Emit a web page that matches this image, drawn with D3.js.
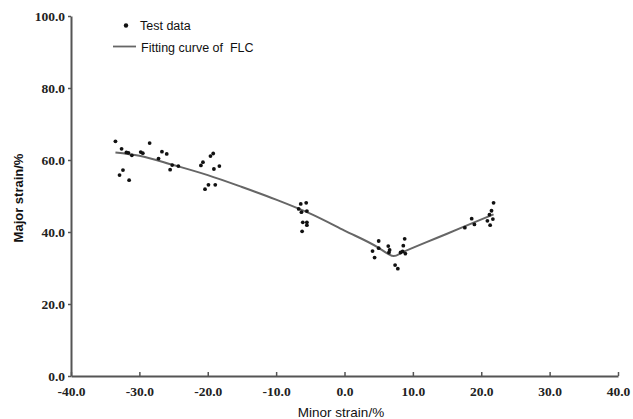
<!DOCTYPE html>
<html>
<head>
<meta charset="utf-8">
<script src="https://cdn.jsdelivr.net/npm/d3@7"></script>
<style>
  html, body { margin: 0; padding: 0; background: #fff; }
  svg { display: block; }
</style>
</head>
<body>
<svg id="chart" width="633" height="419"></svg>
<script>
// Test data (minor strain %, major strain %)
const testMinor = [-33.5, -32.6, -31.9, -31.6, -31.1, -32.4, -32.9, -31.5, -29.8, -29.5, -28.5, -27.2, -26.7, -26.0, -25.2, -25.5, -24.3,
  -21.0, -20.7, -19.6, -19.2, -19.1, -18.3, -19.9, -20.4, -18.9,
  -6.4, -5.6, -6.7, -6.3, -5.5, -6.1, -5.5, -5.5, -6.2,
  5.0, 4.1, 4.4, 5.0, 6.4, 6.6, 6.5, 8.8, 8.6, 8.2, 8.5, 8.9, 7.4, 7.8,
  17.6, 18.6, 19.0, 21.2, 21.5, 21.8, 21.7, 21.3, 20.9];
const testMajor = [65.2, 63.1, 62.1, 62.0, 61.3, 57.2, 55.8, 54.4, 62.2, 61.9, 64.7, 60.4, 62.3, 61.7, 58.6, 57.3, 58.3,
  58.5, 59.4, 61.1, 61.8, 57.5, 58.3, 53.1, 51.9, 53.1,
  47.8, 48.1, 46.4, 45.5, 45.8, 42.7, 42.7, 41.9, 40.2,
  37.5, 34.7, 32.9, 35.5, 36.1, 35.0, 34.3, 38.1, 36.2, 34.3, 34.6, 34.0, 30.8, 29.8,
  41.2, 43.7, 42.1, 44.8, 45.9, 48.1, 43.6, 41.9, 43.1];

// Fitting curve of FLC
const curveMinor = [-33.5, -30, -25, -20, -15, -10, -5, 0, 5, 6.3, 7.2, 8.5, 12, 15, 18, 21.8];
const curveMajor = [62.1, 61.2, 58.6, 55.8, 52.5, 49.0, 45.1, 40.4, 35.6, 34.0, 33.3, 34.4, 37.2, 39.5, 41.9, 44.9];

const xTicks = [-40, -30, -20, -10, 0, 10, 20, 30, 40];
const yTicks = [0, 20, 40, 60, 80, 100];

const legendLabels = ["Test data", "Fitting curve of  FLC"];
const xTitle = "Minor strain/%";
const yTitle = "Major strain/%";

const svg = d3.select("#chart");
const x = d3.scaleLinear().domain([-40, 40]).range([71, 618]);
const y = d3.scaleLinear().domain([0, 100]).range([376, 16]);

const axisColor = "#555";
const serif = "'Liberation Serif', 'Times New Roman', serif";
const sans = "'Liberation Sans', Arial, sans-serif";

// X axis
const xAxis = svg.append("g").attr("transform", `translate(0,${y(0)})`)
  .call(d3.axisBottom(x).tickValues(xTicks).tickFormat(d3.format(".1f")).tickSizeInner(-4).tickSizeOuter(0).tickPadding(10));
xAxis.select(".domain").attr("stroke", axisColor).attr("stroke-width", 2);
xAxis.selectAll(".tick line").attr("stroke", axisColor).attr("stroke-width", 1.5);
xAxis.selectAll(".tick text").attr("font-family", serif).attr("font-size", 13.5).attr("font-weight", "bold").attr("fill", "#222")
  .text(d => d < 0 ? "-" + Math.abs(d).toFixed(1) : d.toFixed(1));

// Y axis
const yAxis = svg.append("g").attr("transform", `translate(${x(-40)},0)`)
  .call(d3.axisLeft(y).tickValues(yTicks).tickFormat(d3.format(".1f")).tickSizeInner(3).tickSizeOuter(0).tickPadding(3));
yAxis.select(".domain").attr("stroke", axisColor).attr("stroke-width", 2);
yAxis.selectAll(".tick line").attr("stroke", axisColor).attr("stroke-width", 1.5);
yAxis.selectAll(".tick text").attr("font-family", serif).attr("font-size", 13.5).attr("font-weight", "bold").attr("fill", "#222");

// Curve
const curveData = curveMinor.map((d, i) => [d, curveMajor[i]]);
svg.append("path")
  .datum(curveData)
  .attr("fill", "none")
  .attr("stroke", "#666")
  .attr("stroke-width", 2)
  .attr("d", d3.line().x(d => x(d[0])).y(d => y(d[1])).curve(d3.curveMonotoneX));

// Points
svg.append("g").selectAll("circle")
  .data(testMinor.map((d, i) => [d, testMajor[i]]))
  .join("circle")
  .attr("cx", d => x(d[0]))
  .attr("cy", d => y(d[1]))
  .attr("r", 1.9)
  .attr("fill", "#111");

// Legend
svg.append("circle").attr("cx", 126).attr("cy", 25.5).attr("r", 2.2).attr("fill", "#111");
svg.append("text").attr("x", 140).attr("y", 30).text(legendLabels[0])
  .attr("font-family", sans).attr("font-size", 12.5).attr("fill", "#111");
svg.append("line").attr("x1", 113).attr("x2", 136).attr("y1", 46.5).attr("y2", 46.5)
  .attr("stroke", "#666").attr("stroke-width", 1.8);
svg.append("text").attr("x", 141).attr("y", 51.5).text(legendLabels[1])
  .attr("font-family", sans).attr("font-size", 12.5).attr("fill", "#111").style("white-space", "pre");

// Axis titles
svg.append("text").attr("x", 341).attr("y", 417).attr("text-anchor", "middle").text(xTitle)
  .attr("font-family", sans).attr("font-size", 13.5).attr("fill", "#111");
svg.append("text").attr("transform", "translate(23,198) rotate(-90)").attr("text-anchor", "middle").text(yTitle)
  .attr("font-family", sans).attr("font-size", 13).attr("font-weight", "bold").attr("fill", "#111");
</script>
</body>
</html>
